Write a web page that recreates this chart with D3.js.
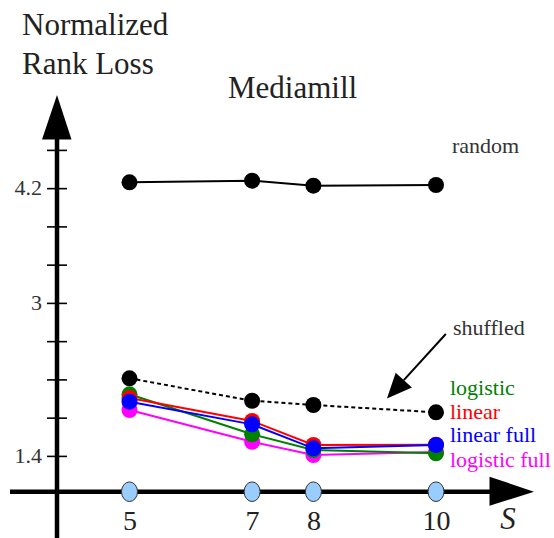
<!DOCTYPE html>
<html>
<head>
<meta charset="utf-8">
<script src="https://cdn.jsdelivr.net/npm/d3@7"></script>
<style>
  html, body { margin: 0; padding: 0; background: #fff; }
  svg { display: block; }
  text { font-family: "Liberation Serif", "Times New Roman", serif; }
</style>
</head>
<body>
<svg id="chart" width="554" height="538"></svg>
<script>
// Number of parts S on the horizontal axis
const sValues = [5, 7, 8, 10];

// Normalized rank loss per method
const randomLoss       = [4.261, 4.278, 4.226, 4.233];
const shuffledLoss     = [2.211, 1.977, 1.932, 1.856];
const logisticLoss     = [2.044, 1.626, 1.461, 1.427];
const linearLoss       = [2.005, 1.765, 1.514, 1.517];
const linearFullLoss   = [1.967, 1.730, 1.479, 1.514];
const logisticFullLoss = [1.880, 1.548, 1.409, 1.440];

// Vertical axis ticks (only some are labelled)
const yTickValues = [1.4, 1.8, 2.2, 2.6, 3.0, 3.4, 3.8, 4.2, 4.6];
const yTickLabels = ["1.4", "", "", "", "3", "", "", "4.2", ""];

const svg = d3.select("#chart");
const serif = '"Liberation Serif", "Times New Roman", serif';

const x = d3.scaleLinear().domain([5, 10]).range([129.5, 436]);
const y = d3.scaleLinear().domain([1.4, 4.6]).range([455.9, 149.9]);

const axisX = 57;      // position of the vertical axis
const axisY = 491.7;   // position of the horizontal axis

// ---- titles ----
svg.append("text").attr("x", 22).attr("y", 35)
  .attr("font-size", 31).attr("fill", "#222").text("Normalized");
svg.append("text").attr("x", 22).attr("y", 74)
  .attr("font-size", 31).attr("fill", "#222").text("Rank Loss");
svg.append("text").attr("x", 228).attr("y", 98)
  .attr("font-size", 31).attr("fill", "#222").text("Mediamill");

// ---- vertical axis ----
svg.append("line")
  .attr("x1", axisX).attr("x2", axisX)
  .attr("y1", 538).attr("y2", 130)
  .attr("stroke", "#000").attr("stroke-width", 4.5);
svg.append("path")
  .attr("d", `M${axisX - 15},139.5 L${axisX},95 L${axisX + 14.5},139.5 Z`)
  .attr("fill", "#000");

const yAxis = d3.axisLeft(y)
  .tickValues(yTickValues)
  .tickSize(0)
  .tickPadding(15)
  .tickFormat((d, i) => yTickLabels[i]);

const gy = svg.append("g")
  .attr("transform", `translate(${axisX},0)`)
  .call(yAxis);
gy.select(".domain").remove();
gy.selectAll(".tick line")
  .attr("x1", -10).attr("x2", 10)
  .attr("stroke", "#000").attr("stroke-width", 1.6);
gy.selectAll(".tick text")
  .attr("font-family", serif)
  .attr("font-size", 22)
  .attr("fill", "#333")
  .attr("dy", "0.3em");

// ---- horizontal axis ----
svg.append("line")
  .attr("x1", 10).attr("x2", 495)
  .attr("y1", axisY).attr("y2", axisY)
  .attr("stroke", "#000").attr("stroke-width", 4.5);
svg.append("path")
  .attr("d", `M489.5,${axisY - 15} L534,${axisY} L489.5,${axisY + 14} Z`)
  .attr("fill", "#000");

const xAxis = d3.axisBottom(x)
  .tickValues(sValues)
  .tickSize(0)
  .tickPadding(0)
  .tickFormat(d3.format("d"));

const gx = svg.append("g")
  .attr("transform", `translate(0,${axisY})`)
  .call(xAxis);
gx.select(".domain").remove();
gx.selectAll(".tick text")
  .attr("font-family", serif)
  .attr("font-size", 28)
  .attr("fill", "#222")
  .attr("dy", 38);

svg.append("text")
  .attr("x", 508).attr("y", 529)
  .attr("text-anchor", "middle")
  .attr("font-size", 31).attr("font-style", "italic")
  .attr("fill", "#222").text("S");

// light-blue markers on the horizontal axis
svg.append("g").selectAll("ellipse")
  .data(sValues)
  .join("ellipse")
  .attr("cx", d => x(d))
  .attr("cy", axisY)
  .attr("rx", 8).attr("ry", 9.8)
  .attr("fill", "#99ccff")
  .attr("stroke", "#333").attr("stroke-width", 1);

// ---- series ----
const line = d3.line()
  .x((d, i) => x(sValues[i]))
  .y(d => y(d));

function drawSeries(values, color, dash) {
  const g = svg.append("g");
  g.append("path")
    .datum(values)
    .attr("d", line)
    .attr("fill", "none")
    .attr("stroke", color)
    .attr("stroke-width", 2)
    .attr("stroke-dasharray", dash || null);
  g.selectAll("circle")
    .data(values)
    .join("circle")
    .attr("cx", (d, i) => x(sValues[i]))
    .attr("cy", d => y(d))
    .attr("r", 8)
    .attr("fill", color);
}

drawSeries(randomLoss, "#000");
drawSeries(shuffledLoss, "#000", "4,3");
drawSeries(logisticFullLoss, "#ff00ff");
drawSeries(logisticLoss, "#008000");
drawSeries(linearLoss, "#ff0000");
drawSeries(linearFullLoss, "#0000ff");

// ---- labels ----
svg.append("text").attr("x", 452).attr("y", 153)
  .attr("font-size", 22).attr("fill", "#333").text("random");
svg.append("text").attr("x", 453).attr("y", 335)
  .attr("font-size", 22).attr("fill", "#333").text("shuffled");

const legend = [
  { name: "logistic",      color: "#008000", y: 395 },
  { name: "linear",        color: "#ff0000", y: 419 },
  { name: "linear full",   color: "#0000ff", y: 442 },
  { name: "logistic full", color: "#ff00ff", y: 466.5 }
];
svg.append("g").selectAll("text")
  .data(legend)
  .join("text")
  .attr("x", 450)
  .attr("y", d => d.y)
  .attr("font-size", 22)
  .attr("fill", d => d.color)
  .text(d => d.name);

// arrow pointing from the "shuffled" label to its curve
const tail = [x(10.16), y(2.675)];
const tip = [x(9.2), y(2.0)];
const ang = Math.atan2(tip[1] - tail[1], tip[0] - tail[0]);
const headLen = 25, headHalf = 11;
const base = [tip[0] - headLen * Math.cos(ang), tip[1] - headLen * Math.sin(ang)];
svg.append("line")
  .attr("x1", tail[0]).attr("y1", tail[1])
  .attr("x2", base[0]).attr("y2", base[1])
  .attr("stroke", "#000").attr("stroke-width", 2);
svg.append("path")
  .attr("d", `M${tip[0]},${tip[1]}
              L${base[0] - headHalf * Math.sin(ang)},${base[1] + headHalf * Math.cos(ang)}
              L${base[0] + headHalf * Math.sin(ang)},${base[1] - headHalf * Math.cos(ang)} Z`)
  .attr("fill", "#000");
</script>
</body>
</html>
